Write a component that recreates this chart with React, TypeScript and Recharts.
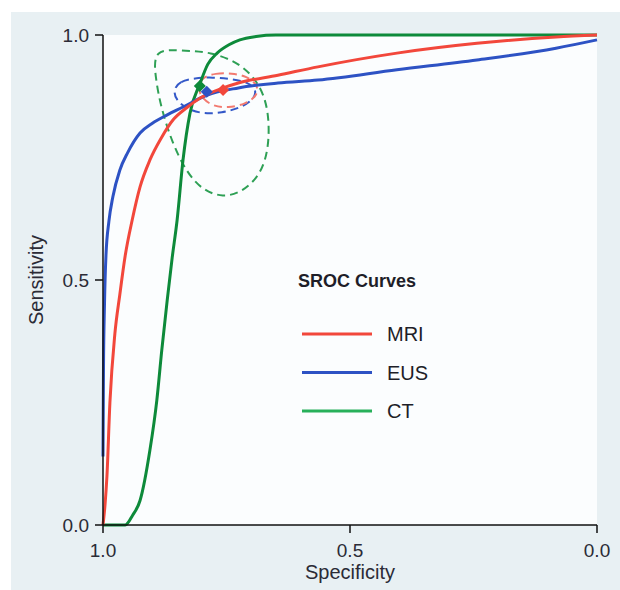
import { ComposedChart, Line, XAxis, YAxis, CartesianGrid } from 'recharts';

const FONT = '"Liberation Sans", Arial, sans-serif';

const RED = '#f2473b';
const BLUE = '#2d52c4';
const GREEN = '#0d8a3a';

// SROC curves, specificity (x, reversed axis) vs sensitivity
const mriSpec = [1.0, 0.996, 0.992, 0.986, 0.976, 0.966, 0.955, 0.941, 0.925, 0.905, 0.882, 0.858, 0.83, 0.804, 0.757, 0.726, 0.646, 0.565, 0.405, 0.243, 0.083, 0.0];
const mriSens = [0, 0.04, 0.1, 0.25, 0.39, 0.47, 0.55, 0.622, 0.69, 0.745, 0.79, 0.827, 0.852, 0.871, 0.892, 0.902, 0.918, 0.935, 0.963, 0.983, 0.996, 1.0];

const eusSpec = [1.0, 0.999, 0.997, 0.994, 0.988, 0.98, 0.966, 0.95, 0.925, 0.9, 0.87, 0.84, 0.79, 0.726, 0.646, 0.565, 0.405, 0.243, 0.083, 0.0];
const eusSens = [0.14, 0.32, 0.45, 0.55, 0.62, 0.67, 0.724, 0.76, 0.8, 0.82, 0.837, 0.852, 0.877, 0.892, 0.902, 0.908, 0.929, 0.949, 0.973, 0.99];

const ctSpec = [1.0, 0.955, 0.94, 0.925, 0.905, 0.891, 0.881, 0.87, 0.86, 0.85, 0.838, 0.824, 0.804, 0.788, 0.769, 0.745, 0.723, 0.69, 0.65, 0.0];
const ctSens = [0, 0, 0.02, 0.05, 0.153, 0.255, 0.357, 0.459, 0.545, 0.622, 0.745, 0.84, 0.9, 0.94, 0.963, 0.98, 0.99, 0.997, 1.0, 1.0];

// 95% confidence regions (dashed)
const mriRegionSpec = [0.798, 0.773, 0.739, 0.709, 0.686, 0.688, 0.711, 0.747, 0.779, 0.802, 0.808];
const mriRegionSens = [0.914, 0.922, 0.922, 0.916, 0.898, 0.876, 0.859, 0.851, 0.855, 0.873, 0.895];

const eusRegionSpec = [0.858, 0.844, 0.814, 0.779, 0.739, 0.707, 0.688, 0.696, 0.723, 0.759, 0.798, 0.83, 0.852];
const eusRegionSens = [0.888, 0.906, 0.912, 0.914, 0.91, 0.904, 0.888, 0.867, 0.851, 0.841, 0.839, 0.849, 0.867];

const ctRegionSpec = [0.898, 0.84, 0.783, 0.72, 0.68, 0.664, 0.664, 0.68, 0.717, 0.757, 0.8, 0.832, 0.86, 0.883, 0.894];
const ctRegionSens = [0.972, 0.968, 0.966, 0.942, 0.896, 0.841, 0.771, 0.716, 0.68, 0.668, 0.684, 0.722, 0.78, 0.853, 0.914];

// summary points
const mriPoint = { spec: 0.757, sens: 0.888 };
const eusPoint = { spec: 0.79, sens: 0.884 };
const ctPoint = { spec: 0.804, sens: 0.896 };

const axisTicks = [0, 0.5, 1];

const legendItems = [
  { name: 'MRI', color: RED },
  { name: 'EUS', color: BLUE },
  { name: 'CT', color: '#27b05a' },
];

const pts = (spec: number[], sens: number[]) => spec.map((s, i) => ({ spec: s, sens: sens[i] }));

function diamond(color: string) {
  return (props: any) => {
    const { cx, cy, index } = props;
    if (cx == null || cy == null) return <g key={index} />;
    const r = 6;
    return (
      <polygon
        key={index}
        points={`${cx},${cy - r} ${cx + r},${cy} ${cx},${cy + r} ${cx - r},${cy}`}
        fill={color}
      />
    );
  };
}

const tickStyle = { fill: '#2b2b36', fontSize: 19, fontFamily: FONT };
const axisStroke = { stroke: '#111', strokeWidth: 1.5 };

export default function App() {
  return (
    <div style={{ position: 'absolute', left: 0, top: 0, width: 620, height: 590, background: '#fff' }}>
      <div style={{ position: 'absolute', left: 11, top: 12, width: 609, height: 578, background: '#e8f0f3' }} />
      <div style={{ position: 'absolute', left: 0, top: 0 }}>
        <ComposedChart width={620} height={590} margin={{ top: 35, right: 23, left: 0, bottom: 0 }}>
          <CartesianGrid fill="#fbfdfe" horizontal={false} vertical={false} stroke="none" />
          <XAxis
            type="number"
            dataKey="spec"
            domain={[0, 1]}
            reversed
            ticks={axisTicks}
            tickFormatter={(v: number) => v.toFixed(1)}
            height={65}
            tickSize={8}
            tickMargin={11}
            tick={tickStyle}
            axisLine={axisStroke}
            tickLine={axisStroke}
            label={{ value: 'Specificity', position: 'insideBottom', offset: 11, fill: '#2b2b36', fontSize: 20, fontFamily: FONT }}
          />
          <YAxis
            type="number"
            dataKey="sens"
            domain={[0, 1]}
            ticks={axisTicks}
            tickFormatter={(v: number) => v.toFixed(1)}
            width={103}
            tickSize={8}
            tickMargin={6}
            tick={tickStyle}
            axisLine={axisStroke}
            tickLine={axisStroke}
            label={{
              content: (p: any) => {
                const vb = p.viewBox || { y: 35, height: 490 };
                return (
                  <text
                    transform={`translate(36, ${vb.y + vb.height / 2}) rotate(-90)`}
                    textAnchor="middle"
                    dominantBaseline="central"
                    fill="#2b2b36"
                    fontSize={20}
                    fontFamily={FONT}
                  >
                    Sensitivity
                  </text>
                );
              },
            }}
          />

          <Line data={pts(ctRegionSpec, ctRegionSens)} dataKey="sens" type="basisClosed" stroke="#2ea055" strokeWidth={2} strokeDasharray="8 5" dot={false} activeDot={false} isAnimationActive={false} />
          <Line data={pts(eusRegionSpec, eusRegionSens)} dataKey="sens" type="basisClosed" stroke="#3358c8" strokeWidth={2} strokeDasharray="8 5" dot={false} activeDot={false} isAnimationActive={false} />
          <Line data={pts(mriRegionSpec, mriRegionSens)} dataKey="sens" type="basisClosed" stroke="#f27a70" strokeWidth={2} strokeDasharray="8 5" dot={false} activeDot={false} isAnimationActive={false} />

          <Line data={pts(ctSpec, ctSens)} dataKey="sens" type="monotone" stroke={GREEN} strokeWidth={3} dot={false} activeDot={false} isAnimationActive={false} />
          <Line data={pts(eusSpec, eusSens)} dataKey="sens" type="monotone" stroke={BLUE} strokeWidth={3} dot={false} activeDot={false} isAnimationActive={false} />
          <Line data={pts(mriSpec, mriSens)} dataKey="sens" type="monotone" stroke={RED} strokeWidth={3} dot={false} activeDot={false} isAnimationActive={false} />

          <Line data={[ctPoint]} dataKey="sens" stroke="none" dot={diamond(GREEN)} activeDot={false} isAnimationActive={false} />
          <Line data={[eusPoint]} dataKey="sens" stroke="none" dot={diamond(BLUE)} activeDot={false} isAnimationActive={false} />
          <Line data={[mriPoint]} dataKey="sens" stroke="none" dot={diamond(RED)} activeDot={false} isAnimationActive={false} />
        </ComposedChart>
      </div>
      <svg width={620} height={590} style={{ position: 'absolute', left: 0, top: 0, pointerEvents: 'none' }}>
        <text x={298} y={287} fontSize={18} fontWeight="bold" fontFamily={FONT} fill="#1e1e28">
          SROC Curves
        </text>
        {legendItems.map((item, i) => (
          <g key={item.name}>
            <line x1={302} x2={372} y1={334 + i * 38.5} y2={334 + i * 38.5} stroke={item.color} strokeWidth={3} />
            <text x={387} y={341 + i * 38.5} fontSize={20} fontFamily={FONT} fill="#1e1e28">
              {item.name}
            </text>
          </g>
        ))}
      </svg>
    </div>
  );
}
